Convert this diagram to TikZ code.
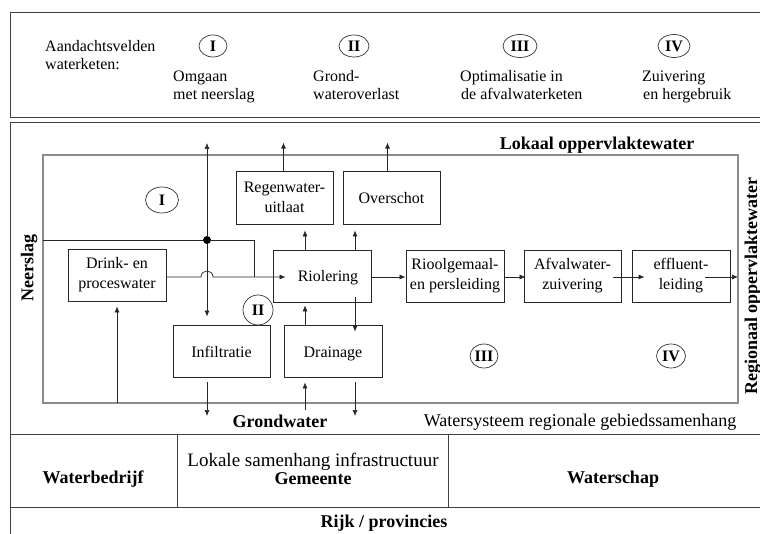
\documentclass[tikz,border=0pt]{standalone}
\usepackage{fontspec}
\setmainfont{Liberation Serif}
\usetikzlibrary{arrows.meta,shapes.geometric}
\begin{document}
\begin{tikzpicture}[x=1pt,y=-1pt,
  frame/.style={draw=black!75, line width=0.9pt},
  sys/.style={draw=black!45, line width=1.3pt},
  box/.style={draw=black!85, line width=0.8pt, rectangle, align=center,
    font=\fontsize{16}{20}\selectfont, inner sep=0pt,
    minimum width=98pt, minimum height=52pt},
  oneline/.style={text height=13pt, text depth=1pt},
  conn/.style={draw=black!85, line width=0.7pt},
  arr/.style={conn, -{Latex[length=6pt,width=5pt]}},
  num/.style={draw=black!80, ellipse, line width=0.7pt, inner sep=0pt,
    font=\fontsize{16}{16}\selectfont\bfseries},
  hdr/.style={align=left, anchor=base west, inner sep=0pt, font=\fontsize{16}{18}\selectfont},
  lbl/.style={inner sep=0pt, font=\fontsize{18}{20}\selectfont\bfseries},
  txt/.style={inner sep=0pt, font=\fontsize{18}{20}\selectfont},
  dot/.style={circle, fill=black, inner sep=0pt, minimum size=8pt},
]
\useasboundingbox (0,0) rectangle (760,534);
\fill[white] (0,0) rectangle (760,534);

% frames
\draw[frame] (760,12) -- (10,12) -- (10,117) -- (760,117);
\draw[frame] (760,122) -- (10,122) -- (10,534);
\draw[frame] (10,434) -- (760,434);
\draw[frame] (10,507) -- (760,507);
\draw[frame] (177,434) -- (177,508);
\draw[frame] (448,434) -- (448,508);

% header
\node[hdr] (h0a) at (45,52) {Aandachtsvelden};
\node[hdr] (h0b) at (45,70) {waterketen:};
\node[num, minimum width=28pt, minimum height=22pt] (hI) at (213,46) {I};
\node[num, minimum width=30pt, minimum height=22pt] (hII) at (354,46) {II};
\node[num, minimum width=34pt, minimum height=23pt] (hIII) at (520,46) {III};
\node[num, minimum width=32pt, minimum height=23pt] (hIV) at (674,46) {IV};
\node[hdr] (h1a) at (173,82) {Omgaan};
\node[hdr] (h1b) at (173,100) {met neerslag};
\node[hdr] (h2a) at (313,82) {Grond-};
\node[hdr] (h2b) at (313,100) {wateroverlast};
\node[hdr] (h3a) at (460,82) {Optimalisatie in};
\node[hdr] (h3b) at (461,100) {de afvalwaterketen};
\node[hdr] (h4a) at (642,82) {Zuivering};
\node[hdr] (h4b) at (643,100) {en hergebruik};

% system rectangle
\draw[sys] (43,155) rectangle (738,403);

% labels
\node[lbl, anchor=base] (lok) at (597,150) {Lokaal oppervlaktewater};
\node[lbl, rotate=90] (neer) at (29,268) {Neerslag};
\node[lbl, rotate=90, anchor=north] (reg) at (744.5,286) {Regionaal oppervlaktewater};
\node[lbl, anchor=base] (grond) at (280,427) {Grondwater};
\node[txt, anchor=base] (wsys) at (580,426) {Watersysteem regionale gebiedssamenhang};

% boxes
\node[box] (drink) at (117,275) {Drink- en\\proceswater};
\node[box, minimum width=97pt, minimum height=53pt] (regen) at (284.5,197.5) {Regenwater-\\uitlaat};
\node[box, oneline, minimum width=97pt, minimum height=53pt] (over) at (391.5,197.5) {Overschot};
\node[box, oneline] (riol) at (322,276) {\hspace*{12pt}Riolering};
\node[box] (rioolg) at (455,276) {Rioolgemaal-\\en persleiding};
\node[box, minimum width=97pt] (afval) at (572.5,276) {Afvalwater-\\zuivering};
\node[box] (effl) at (681,276) {effluent-\\leiding};
\node[box, oneline, minimum width=97pt] (infil) at (221.5,351) {Infiltratie};
\node[box, oneline] (drain) at (333,351) {Drainage};

% circles
\node[num, minimum width=33pt, minimum height=26pt] (cI) at (162,200) {I};
\node[num, minimum width=30pt, minimum height=30pt] (cII) at (258,310) {II};
\node[num, minimum width=28pt, minimum height=24pt] (cIII) at (484,356) {III};
\node[num, minimum width=29pt, minimum height=24pt] (cIV) at (671,356) {IV};

% coordinates
\node[dot] (dot) at (207,240) {};
\coordinate (nl) at (43,240);
\coordinate (nr) at (254,240);
\coordinate (nd) at (254,277);
\coordinate (topout) at (207,143);
\coordinate (c305) at (305,0);
\coordinate (c355) at (355,0);
\coordinate (gw1) at (207,416);
\coordinate (gw2) at (305,410);
\coordinate (gw3) at (355,416);
\coordinate (dbot) at (117,403);
\coordinate (sysright) at (738,277);

% connectors
\draw[conn] (nl) -- (dot) -- (nr) -- (nd);
\draw[arr] (dot) -- (topout);
\draw[arr, shorten >=8pt] (dot) -- (infil.north -| dot);
\draw[arr] (drink.east |- nd) -- (201,277) .. controls (201,269) and (213,269) .. (213,277) -- ([xshift=13pt]riol.west |- nd);
\draw[arr, shorten >=5pt] (dbot) -- (drink.south);
\draw[arr] ([xshift=-1pt]regen.north) -- ++(0,-28);
\draw[arr] ([xshift=-4pt]over.north) -- ++(0,-28);
\draw[arr, shorten >=6pt] (riol.north -| c305) -- (regen.south -| c305);
\draw[arr, shorten >=6pt] (riol.north -| c355) -- (over.south -| c355);
\draw[arr, shorten >=3pt] (drain.north -| c305) -- (riol.south -| c305);
\draw[arr, shorten <=-5pt, shorten >=-7pt] (riol.south -| c355) -- (drain.north -| c355);
\draw[arr, shorten <=5pt] (infil.south -| gw1) -- (gw1);
\draw[arr, shorten >=5pt] (gw2) -- (drain.south -| gw2);
\draw[arr, shorten <=5pt] (drain.south -| gw3) -- (gw3);
\draw[arr] (riol.east |- sysright) -- (rioolg.west |- sysright);
\draw[arr, shorten >=-2pt] (rioolg.east |- sysright) -- (afval.west |- sysright);
\draw[arr, shorten <=-8pt, shorten >=-13pt] (afval.east |- sysright) -- (effl.west |- sysright);
\draw[arr, shorten <=-25pt] (effl.east |- sysright) -- (sysright);

% bottom table
\node[lbl, anchor=base] (wb) at (93,483) {Waterbedrijf};
\node[txt, anchor=base, font=\fontsize{19}{20}\selectfont] (lsi) at (313,466) {Lokale samenhang infrastructuur};
\node[lbl, anchor=base] (gem) at (313,484) {Gemeente};
\node[lbl, anchor=base] (ws) at (613,483) {Waterschap};
\node[lbl, anchor=base] (rp) at (384,527) {Rijk / provincies};
\end{tikzpicture}
\end{document}
